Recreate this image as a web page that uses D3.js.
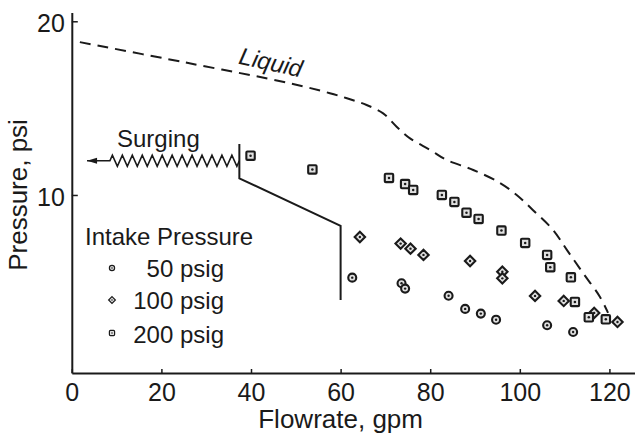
<!DOCTYPE html>
<html><head><meta charset="utf-8">
<script src="https://cdn.jsdelivr.net/npm/d3@7"></script>
<style>
body{margin:0;background:#fff;}
svg{display:block;font-family:"Liberation Sans",Arial,Helvetica,sans-serif;}
</style></head>
<body>
<svg id="c" width="635" height="443"></svg>
<script>
// ---- data ----
const xTicks = [0, 20, 40, 60, 80, 100, 120];
const yTicks = [10, 20];
const seriesNames = ["50 psig", "100 psig", "200 psig"];
const p50 = [[62.6,5.24],[73.6,4.92],[74.4,4.61],[84.1,4.20],[87.8,3.44],[91.3,3.17],[94.7,2.82],[106.1,2.50],[111.9,2.11]];
const p100 = [[64.3,7.58],[73.4,7.20],[75.6,6.91],[78.5,6.55],[88.9,6.20],[96.1,5.58],[96.1,5.20],[103.4,4.19],[109.8,3.90],[116.6,3.21],[121.8,2.69]];
const p200 = [[39.9,12.26],[53.7,11.47],[70.8,10.98],[74.4,10.63],[76.2,10.29],[82.6,10.0],[85.4,9.6],[88.1,8.98],[90.8,8.62],[95.9,7.95],[101.2,7.24],[106.1,6.55],[106.8,5.84],[111.4,5.26],[112.3,3.84],[115.4,2.96],[119.2,2.84]];
const liquid = [[1.8,18.8],[25.3,17.63],[48.7,16.43],[57.6,15.86],[62.1,15.51],[65.8,15.18],[69.5,14.70],[72.5,13.93],[75.5,13.26],[80.0,12.59],[83.7,12.01],[89.6,11.44],[95.6,10.69],[99.3,10.0],[102.9,9.14],[107.4,7.99],[110.5,6.84],[114.1,5.51],[117.9,4.13],[119.7,3.21]];
const surgeBoundary = [[37.4,12.94],[37.4,10.96],[60,8.22],[60,3.95]];
const surgeZig = [8.5, 37.4, 11.97]; // x start, x end, y level
const surgeArrowTip = 3.4;

// ---- scales ----
const x = d3.scaleLinear().domain([0, 125.6]).range([71.8, 634.5]);
const y = d3.scaleLinear().domain([-0.25, 20.5]).range([373, 12.6]);
const svg = d3.select("#c");
const ink = "#1a1a1a";

// axes
const xAxis = svg.append("g").attr("transform", `translate(0,${y(-0.25)})`)
  .call(d3.axisBottom(x).tickValues(xTicks).tickSize(-4).tickSizeOuter(0).tickPadding(10).tickFormat(d3.format("d")));
const yAxis = svg.append("g").attr("transform", `translate(${x(0)},0)`)
  .call(d3.axisLeft(y).tickValues(yTicks).tickSize(-6).tickSizeOuter(0).tickPadding(7).tickFormat(d3.format("d")));
[xAxis, yAxis].forEach(g => {
  g.select(".domain").attr("stroke", ink).attr("stroke-width", 2);
  g.selectAll(".tick line").attr("stroke", ink).attr("stroke-width", 1.5);
  g.selectAll(".tick text").attr("fill", ink).style("font-size", "25px").style("font-family", '"Liberation Sans",Arial,sans-serif');
});
yAxis.selectAll(".tick text").attr("dy", "0.42em");

// axis titles
svg.append("text").attr("x", x(60)).attr("y", 428).attr("text-anchor", "middle")
  .style("font-size", "26px").attr("fill", ink).text("Flowrate, gpm");
svg.append("text").attr("transform", `translate(27,${y(10)}) rotate(-90)`).attr("text-anchor", "middle")
  .style("font-size", "26px").attr("fill", ink).text("Pressure, psi");

// liquid curve
svg.append("path").datum(liquid)
  .attr("d", d3.line().x(d => x(d[0])).y(d => y(d[1])).curve(d3.curveCatmullRom.alpha(0.5)))
  .attr("fill", "none").attr("stroke", ink).attr("stroke-width", 2).attr("stroke-dasharray", "11,7");
svg.append("text").attr("transform", `translate(271,62) rotate(12.5)`).attr("text-anchor", "middle").attr("dy", "0.36em")
  .style("font-size", "24px").style("font-style", "italic").attr("fill", ink).text("Liquid");

// surging boundary
svg.append("path").datum(surgeBoundary)
  .attr("d", d3.line().x(d => x(d[0])).y(d => y(d[1])))
  .attr("fill", "none").attr("stroke", ink).attr("stroke-width", 2);

// zigzag
const zx0 = x(surgeZig[0]), zx1 = x(surgeZig[1]), zy = y(surgeZig[2]);
const nZ = 13, step = (zx1 - zx0) / nZ;
const zpts = [[x(surgeArrowTip), zy], [zx0, zy]];
for (let i = 0; i < nZ; i++) {
  zpts.push([zx0 + step * (i + 0.25), zy - 5.5]);
  zpts.push([zx0 + step * (i + 0.75), zy + 5.5]);
}
zpts.push([zx1, zy]);
svg.append("path").attr("d", d3.line()(zpts)).attr("fill", "none").attr("stroke", ink).attr("stroke-width", 1.6);
const ax = x(surgeArrowTip);
svg.append("path").attr("d", `M${ax},${zy}L${ax+10},${zy-3}L${ax+10},${zy+3}Z`).attr("fill", ink);
svg.append("text").attr("x", 117).attr("y", 147).style("font-size", "24px").attr("fill", ink).text("Surging");

// markers
function drawMarker(g, type, cx, cy, s, sw) {
  if (type === 0) {
    g.append("circle").attr("cx", cx).attr("cy", cy).attr("r", s).attr("fill", "#e0e0e0").attr("stroke", ink).attr("stroke-width", sw);
  } else if (type === 1) {
    const r = s * 1.3;
    g.append("path").attr("d", `M${cx},${cy-r}L${cx+r},${cy}L${cx},${cy+r}L${cx-r},${cy}Z`).attr("fill", "#e0e0e0").attr("stroke", ink).attr("stroke-width", sw);
  } else {
    g.append("rect").attr("x", cx - s).attr("y", cy - s).attr("width", 2 * s).attr("height", 2 * s).attr("rx", 1).attr("fill", "#e0e0e0").attr("stroke", ink).attr("stroke-width", sw);
  }
  g.append("circle").attr("cx", cx).attr("cy", cy).attr("r", s * 0.3).attr("fill", ink);
}
const allSeries = [p50, p100, p200];
const mg = svg.append("g");
allSeries.forEach((ser, i) => ser.forEach(d => drawMarker(mg, i, x(d[0]), y(d[1]), i === 2 ? 4.2 : 4, 2.1)));

// legend
svg.append("text").attr("x", 85).attr("y", 245).style("font-size", "24px").attr("fill", ink).text("Intake Pressure");
const legY = [268, 300, 333], legBase = [276.7, 309, 342.7];
seriesNames.forEach((n, i) => {
  drawMarker(svg, i, 112, legY[i], 2.6, 1.2);
  svg.append("text").attr("x", 224).attr("y", legBase[i]).attr("text-anchor", "end").style("font-size", "24px").attr("fill", ink).text(n);
});
</script>
</body></html>
